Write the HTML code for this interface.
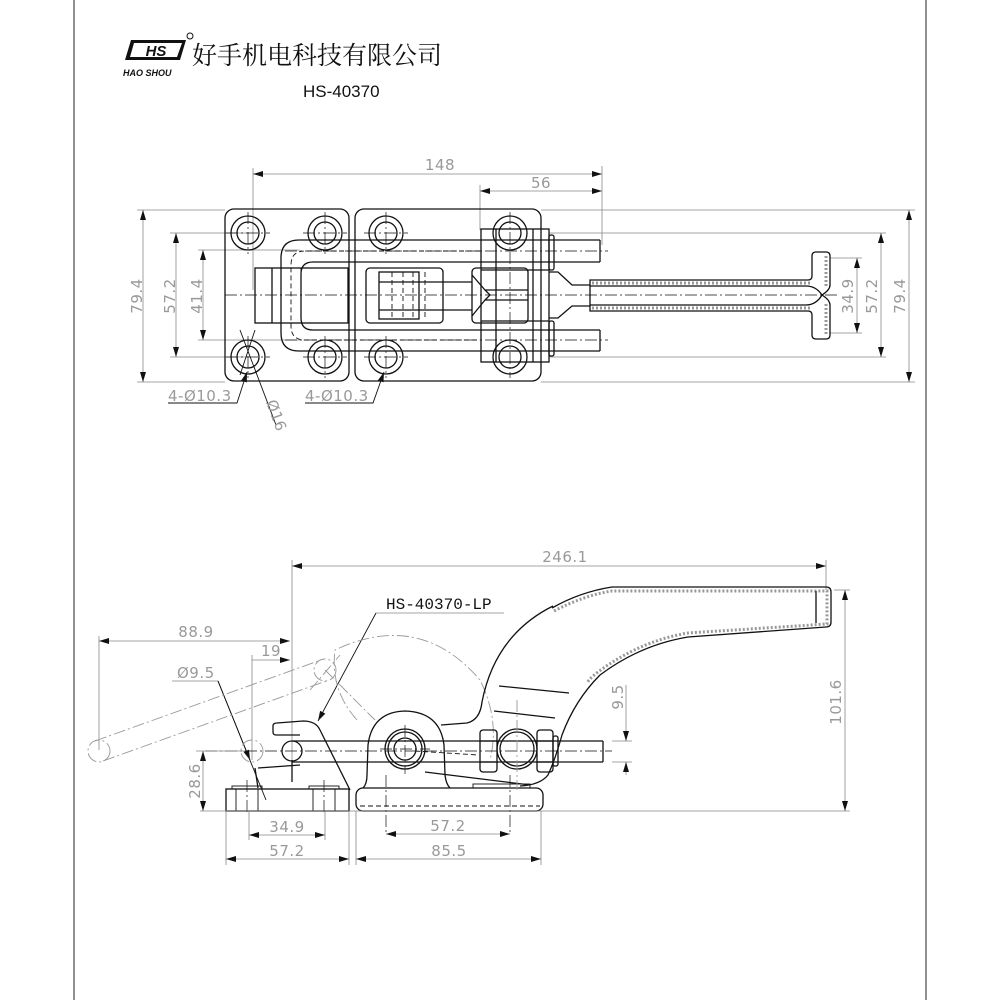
<!DOCTYPE html>
<html><head><meta charset="utf-8"><style>
html,body{margin:0;padding:0;background:#fff}
svg{display:block}
.k{stroke:#111;stroke-width:1.3;fill:none}
.t{stroke:#111;stroke-width:0.9;fill:none}
.d{stroke:#888;stroke-width:0.8;fill:none}
.dd{stroke:#111;stroke-width:0.9;fill:none;stroke-dasharray:5,3}
.cl{stroke:#111;stroke-width:0.7;fill:none;stroke-dasharray:12,3,2,3}
.gc{stroke:#999;stroke-width:0.9;fill:none;stroke-dasharray:12,3,2,3}
.tx{font-family:"DejaVu Sans","Liberation Sans",sans-serif;font-size:15px;fill:#999;letter-spacing:0.5px}
.h{stroke:#999;stroke-width:3;fill:none;stroke-dasharray:2,2}
</style></head><body>
<svg width="1000" height="1000" viewBox="0 0 1000 1000" xmlns="http://www.w3.org/2000/svg">
<defs>
<marker id="a" viewBox="0 0 10 6" refX="10" refY="3" markerWidth="10" markerHeight="6" orient="auto-start-reverse" markerUnits="userSpaceOnUse"><path d="M0,0 L10,3 L0,6 Z" fill="#111"/></marker>
</defs>
<line x1="74" y1="0" x2="74" y2="1000" stroke="#222" stroke-width="1"/>
<line x1="926" y1="0" x2="926" y2="1000" stroke="#222" stroke-width="1"/>

<g>
<path d="M131,40 L186,40 L180,60 L125,60 Z" fill="#111"/>
<path d="M134,43 L182,43 L177,57 L130,57 Z" fill="#fff"/>
<text x="156" y="56" font-family="Liberation Sans,sans-serif" font-weight="bold" font-style="italic" font-size="15" text-anchor="middle" fill="#111">HS</text>
<circle cx="190" cy="36" r="3" fill="none" stroke="#111" stroke-width="1"/>
<text x="123" y="76" font-family="Liberation Sans,sans-serif" font-style="italic" font-weight="bold" font-size="9" fill="#111">HAO SHOU</text>
<text x="192" y="64" font-family="'Liberation Serif','Noto Serif CJK SC',serif" font-size="25" fill="#111">好手机电科技有限公司</text>
<text x="303" y="97" font-family="Liberation Sans,sans-serif" font-size="17" fill="#111">HS-40370</text>
</g>

<!-- TOP VIEW -->
<line class="d" x1="253" y1="168" x2="253" y2="290"/>
<line class="d" x1="480" y1="185" x2="480" y2="230"/>
<line class="d" x1="602" y1="166" x2="602" y2="245"/>
<line class="d" x1="253" y1="174" x2="602" y2="174" marker-start="url(#a)" marker-end="url(#a)"/>
<text class="tx" x="440" y="170" text-anchor="middle">148</text>
<line class="d" x1="480" y1="191" x2="602" y2="191" marker-start="url(#a)" marker-end="url(#a)"/>
<text class="tx" x="541" y="188" text-anchor="middle">56</text>

<line class="d" x1="137" y1="210" x2="225" y2="210"/>
<line class="d" x1="137" y1="382" x2="225" y2="382"/>
<line class="d" x1="170" y1="233" x2="248" y2="233"/>
<line class="d" x1="170" y1="357" x2="248" y2="357"/>
<line class="d" x1="198" y1="250" x2="300" y2="250"/>
<line class="d" x1="198" y1="340" x2="300" y2="340"/>
<line class="d" x1="143" y1="210" x2="143" y2="382" marker-start="url(#a)" marker-end="url(#a)"/>
<line class="d" x1="176" y1="233" x2="176" y2="357" marker-start="url(#a)" marker-end="url(#a)"/>
<line class="d" x1="203" y1="250" x2="203" y2="340" marker-start="url(#a)" marker-end="url(#a)"/>
<text class="tx" transform="translate(142,296) rotate(-90)" text-anchor="middle">79.4</text>
<text class="tx" transform="translate(175,296) rotate(-90)" text-anchor="middle">57.2</text>
<text class="tx" transform="translate(202,296) rotate(-90)" text-anchor="middle">41.4</text>

<line class="d" x1="541" y1="210" x2="915" y2="210"/>
<line class="d" x1="541" y1="382" x2="915" y2="382"/>
<line class="d" x1="549" y1="233" x2="886" y2="233"/>
<line class="d" x1="549" y1="357" x2="886" y2="357"/>
<line class="d" x1="830" y1="258" x2="862" y2="258"/>
<line class="d" x1="830" y1="333" x2="862" y2="333"/>
<line class="d" x1="857" y1="258" x2="857" y2="333" marker-start="url(#a)" marker-end="url(#a)"/>
<line class="d" x1="881" y1="233" x2="881" y2="357" marker-start="url(#a)" marker-end="url(#a)"/>
<line class="d" x1="909" y1="210" x2="909" y2="382" marker-start="url(#a)" marker-end="url(#a)"/>
<text class="tx" transform="translate(853,296) rotate(-90)" text-anchor="middle">34.9</text>
<text class="tx" transform="translate(877,296) rotate(-90)" text-anchor="middle">57.2</text>
<text class="tx" transform="translate(905,296) rotate(-90)" text-anchor="middle">79.4</text>

<rect class="k" x="225" y="209" width="124" height="172" rx="9"/>
<rect class="k" x="355" y="209" width="186" height="172" rx="9"/>
<g class="k">
<circle cx="248" cy="233" r="17"/><circle cx="248" cy="233" r="11"/>
<circle cx="325" cy="233" r="17"/><circle cx="325" cy="233" r="11"/>
<circle cx="248" cy="357" r="17"/><circle cx="248" cy="357" r="11"/>
<circle cx="325" cy="357" r="17"/><circle cx="325" cy="357" r="11"/>
<circle cx="386" cy="233" r="17"/><circle cx="386" cy="233" r="11"/>
<circle cx="386" cy="357" r="17"/><circle cx="386" cy="357" r="11"/>
<circle cx="510" cy="233" r="17"/><circle cx="510" cy="233" r="11"/>
<circle cx="510" cy="357" r="17"/><circle cx="510" cy="357" r="11"/>
</g>
<g class="cl">
<line x1="226" y1="233" x2="270" y2="233"/><line x1="248" y1="212" x2="248" y2="254"/>
<line x1="303" y1="233" x2="347" y2="233"/><line x1="325" y1="212" x2="325" y2="254"/>
<line x1="226" y1="357" x2="270" y2="357"/><line x1="248" y1="336" x2="248" y2="378"/>
<line x1="303" y1="357" x2="347" y2="357"/><line x1="325" y1="336" x2="325" y2="378"/>
<line x1="364" y1="233" x2="408" y2="233"/><line x1="386" y1="212" x2="386" y2="254"/>
<line x1="364" y1="357" x2="408" y2="357"/><line x1="386" y1="336" x2="386" y2="378"/>
<line x1="510" y1="212" x2="510" y2="378"/>
<line x1="225" y1="295" x2="840" y2="295"/>
<line x1="285" y1="251" x2="608" y2="251"/>
<line x1="285" y1="340" x2="608" y2="340"/>
</g>
<path class="k" d="M600,240 L299,240 Q281,240 281,258 L281,333 Q281,351 299,351 L600,351"/>
<path class="k" d="M600,262 L313,262 Q301,262 301,274 L301,318 Q301,330 313,330 L600,330"/>
<path class="dd" d="M480,251 L305,251 Q291,251 291,265 L291,326 Q291,340 305,340 L480,340"/>
<line class="k" x1="600" y1="240" x2="600" y2="262"/>
<line class="k" x1="600" y1="330" x2="600" y2="351"/>
<rect class="k" x="255" y="268" width="93" height="55" fill="#fff"/>
<line class="k" x1="272" y1="268" x2="272" y2="323"/>
<line class="dd" x1="281" y1="268" x2="281" y2="323"/>
<line class="dd" x1="301" y1="268" x2="301" y2="323"/>
<rect class="k" x="366" y="268" width="77" height="55" rx="4"/>
<rect class="k" x="379" y="272" width="40" height="47"/>
<line class="k" x1="379" y1="282" x2="472" y2="282"/>
<line class="k" x1="379" y1="310" x2="472" y2="310"/>
<line class="dd" x1="392" y1="272" x2="392" y2="319"/>
<line class="dd" x1="403" y1="272" x2="403" y2="319"/>
<line class="dd" x1="413" y1="272" x2="413" y2="319"/>
<line class="dd" x1="425" y1="272" x2="425" y2="319"/>
<rect class="k" x="472" y="268" width="56" height="55" rx="4"/>
<path class="k" d="M472,275 L485,290 L528,290 M472,316 L485,300 L528,300 M485,290 L490,295 L485,300"/>
<rect class="k" x="481" y="229" width="68" height="133" fill="none"/>
<line class="k" x1="496" y1="229" x2="496" y2="362"/>
<line class="k" x1="533" y1="229" x2="533" y2="362"/>
<rect class="k" x="549" y="235" width="5" height="35" rx="2"/>
<rect class="k" x="549" y="321" width="5" height="35" rx="2"/>
<line class="k" x1="481" y1="270" x2="549" y2="270"/>
<line class="k" x1="481" y1="321" x2="549" y2="321"/>
<path class="k" d="M549,272 L558,272 L572,285 L590,285 M549,318 L558,318 L572,306 L590,306"/>
<path class="k" d="M590,280 L808,280 Q812,280 812,276 L812,256 Q812,252 816,252 L826,252 Q830,252 830,256 L830,285 Q830,290 822,295 Q830,300 830,305 L830,335 Q830,339 826,339 L816,339 Q812,339 812,335 L812,315 Q812,311 808,311 L590,311 Z"/>
<path class="h" d="M592,283 L810,283 M592,308 L810,308 M826,256 L826,287 M826,304 L826,335" stroke-width="2"/>
<path class="k" d="M590,286 L806,286 Q816,286 822,295 Q816,305 806,305 L590,305"/>

<path class="t" d="M168,403 L237,403 L247,372" marker-end="url(#a)"/>
<text class="tx" x="168" y="401">4-Ø10.3</text>
<path class="t" d="M305,403 L373,403 L384,372" marker-end="url(#a)"/>
<text class="tx" x="305" y="401">4-Ø10.3</text>
<line class="t" x1="240" y1="330" x2="276" y2="425"/>
<line class="t" x1="255" y1="330" x2="240" y2="375"/>
<text class="tx" transform="translate(266,402) rotate(70)">Ø16</text>

<!-- SIDE VIEW -->
<line class="d" x1="292" y1="560" x2="292" y2="782"/>
<line class="d" x1="826" y1="560" x2="826" y2="590"/>
<line class="d" x1="292" y1="566" x2="826" y2="566" marker-start="url(#a)" marker-end="url(#a)"/>
<text class="tx" x="565" y="562" text-anchor="middle">246.1</text>

<line class="d" x1="99" y1="636" x2="99" y2="750"/>
<line class="d" x1="99" y1="641" x2="290" y2="641" marker-start="url(#a)" marker-end="url(#a)"/>
<text class="tx" x="196" y="637" text-anchor="middle">88.9</text>
<line class="d" x1="252" y1="655" x2="252" y2="760"/>
<line class="d" x1="252" y1="660" x2="290" y2="660" marker-end="url(#a)"/>
<text class="tx" x="271" y="656" text-anchor="middle">19</text>
<line class="d" x1="172" y1="681" x2="218" y2="681"/>
<text class="tx" x="177" y="678">Ø9.5</text>
<line class="t" x1="218" y1="681" x2="266" y2="800" />
<line class="t" x1="218" y1="681" x2="250" y2="760" marker-end="url(#a)"/>

<line class="d" x1="376" y1="613" x2="504" y2="613"/>
<text x="386" y="609" font-family="Liberation Mono,monospace" font-size="16" fill="#111">HS-40370-LP</text>
<line class="t" x1="376" y1="613" x2="318" y2="721" marker-end="url(#a)"/>

<circle class="gc" cx="99" cy="751" r="11" stroke-dasharray="none"/>
<circle class="gc" cx="325" cy="670" r="11" stroke-dasharray="none"/>
<line class="gc" x1="95" y1="741" x2="321" y2="660"/>
<line class="gc" x1="103" y1="761" x2="329" y2="680"/>
<line class="gc" x1="310" y1="690" x2="340" y2="655"/>
<circle class="gc" cx="252" cy="751" r="11" stroke-dasharray="none"/>
<path class="gc" d="M357,720 Q330,690 335,650 Q420,610 480,680 Q500,720 490,760"/>
<line class="gc" x1="325" y1="670" x2="375" y2="720"/>

<line class="cl" x1="205" y1="751" x2="612" y2="751"/>
<line class="k" x1="292" y1="741" x2="603" y2="741"/>
<line class="k" x1="292" y1="762" x2="603" y2="762"/>
<line class="k" x1="603" y1="741" x2="603" y2="762"/>
<path class="k" d="M300,735 L276,735 Q273,735 273,732 L273,726 Q273,723 277,723 L303,721 Q316,721 320,730 L350,790"/>
<circle class="k" cx="292" cy="751" r="10" fill="#fff"/>
<line class="k" x1="292" y1="760" x2="292" y2="782"/>
<path class="k" d="M255,768 L258,788 M258,768 L300,765"/>
<rect class="k" x="226" y="789" width="123" height="22"/>
<rect class="t" x="232" y="786" width="30" height="3"/>
<rect class="t" x="309" y="786" width="30" height="3"/>
<line class="t" x1="236" y1="789" x2="236" y2="811"/><line class="t" x1="258" y1="789" x2="258" y2="811"/>
<line class="t" x1="313" y1="789" x2="313" y2="811"/><line class="t" x1="335" y1="789" x2="335" y2="811"/>
<line class="cl" x1="247" y1="780" x2="247" y2="815"/>
<line class="cl" x1="324" y1="780" x2="324" y2="815"/>
<rect class="k" x="356" y="788" width="187" height="23" rx="7"/>
<line class="dd" x1="360" y1="806" x2="540" y2="806"/>
<line class="cl" x1="386" y1="775" x2="386" y2="835"/>
<line class="cl" x1="510" y1="775" x2="510" y2="835"/>
<rect class="t" x="473" y="784" width="57" height="4"/>
<path class="k" d="M363,788 Q367,784 367,775 L368,745 Q372,712 405,711 Q440,712 444,745 L445,775 Q446,784 450,788"/>
<circle class="k" cx="405" cy="749" r="20"/>
<circle class="k" cx="405" cy="749" r="17"/>
<circle class="k" cx="405" cy="749" r="11"/>
<line class="cl" x1="380" y1="749" x2="430" y2="749"/>
<line class="cl" x1="405" y1="725" x2="405" y2="774"/>
<path class="k" d="M425,772 L530,785"/>
<line class="dd" x1="415" y1="751" x2="478" y2="755"/>
<path class="k" d="M441,725 L467,723 Q480,720 482,702 Q495,635 553,606"/>
<path class="k" d="M552,608 Q580,592 612,587 L826,587 Q831,587 831,592 L831,622 Q831,627 826,627 L688,637 Q640,645 600,675 Q575,700 562,735 Q555,760 548,775 Q540,785 520,786"/>
<path class="h" d="M554,611 Q585,595 612,591 L827,591 L827,624 L688,633 Q640,641 598,672 Q590,678 587,683"/>
<line class="k" x1="816" y1="591" x2="816" y2="623"/>
<line class="k" x1="499" y1="686" x2="569" y2="693"/>
<line class="k" x1="494" y1="711" x2="555" y2="718"/>
<rect class="k" x="480" y="730" width="17" height="42" rx="3" fill="#fff"/>
<line class="k" x1="480" y1="741" x2="497" y2="741"/><line class="k" x1="480" y1="762" x2="497" y2="762"/>
<rect class="k" x="537" y="730" width="16" height="42" rx="3" fill="#fff"/>
<line class="k" x1="537" y1="741" x2="553" y2="741"/><line class="k" x1="537" y1="762" x2="553" y2="762"/>
<rect class="k" x="553" y="736" width="5" height="30" rx="2" fill="#fff"/>
<circle class="k" cx="517" cy="749" r="20" fill="#fff"/>
<circle class="k" cx="517" cy="749" r="17"/>
<line class="gc" x1="517" y1="700" x2="517" y2="790"/>

<line class="d" x1="612" y1="741" x2="632" y2="741"/>
<line class="d" x1="612" y1="762" x2="632" y2="762"/>
<line class="d" x1="626" y1="685" x2="626" y2="741" marker-end="url(#a)"/>
<line class="d" x1="626" y1="775" x2="626" y2="762" marker-end="url(#a)"/>
<text class="tx" transform="translate(623,697) rotate(-90)" text-anchor="middle">9.5</text>
<line class="d" x1="834" y1="590" x2="850" y2="590"/>
<line class="d" x1="200" y1="811" x2="850" y2="811"/>
<line class="d" x1="845" y1="590" x2="845" y2="811" marker-start="url(#a)" marker-end="url(#a)"/>
<text class="tx" transform="translate(841,702) rotate(-90)" text-anchor="middle">101.6</text>
<line class="d" x1="196" y1="751" x2="245" y2="751"/>
<line class="d" x1="203" y1="751" x2="203" y2="811" marker-start="url(#a)" marker-end="url(#a)"/>
<text class="tx" transform="translate(200,781) rotate(-90)" text-anchor="middle">28.6</text>
<line class="d" x1="226" y1="811" x2="226" y2="865"/>
<line class="d" x1="349" y1="811" x2="349" y2="865"/>
<line class="d" x1="356" y1="811" x2="356" y2="865"/>
<line class="d" x1="541" y1="811" x2="541" y2="865"/>
<line class="d" x1="249" y1="811" x2="249" y2="840"/>
<line class="d" x1="325" y1="811" x2="325" y2="840"/>
<line class="d" x1="249" y1="835" x2="325" y2="835" marker-start="url(#a)" marker-end="url(#a)"/>
<text class="tx" x="287" y="832" text-anchor="middle">34.9</text>
<line class="d" x1="226" y1="859" x2="349" y2="859" marker-start="url(#a)" marker-end="url(#a)"/>
<text class="tx" x="287" y="856" text-anchor="middle">57.2</text>
<line class="d" x1="386" y1="834" x2="510" y2="834" marker-start="url(#a)" marker-end="url(#a)"/>
<text class="tx" x="448" y="831" text-anchor="middle">57.2</text>
<line class="d" x1="356" y1="859" x2="541" y2="859" marker-start="url(#a)" marker-end="url(#a)"/>
<text class="tx" x="449" y="856" text-anchor="middle">85.5</text>
</svg>
</body></html>
